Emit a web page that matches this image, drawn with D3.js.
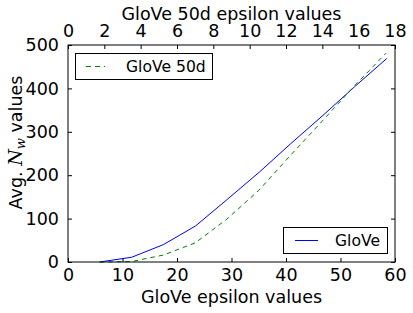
<!DOCTYPE html>
<html><head><meta charset="utf-8">
<script src="https://cdn.jsdelivr.net/npm/d3@7"></script>
<style>
html,body{margin:0;padding:0;background:#fff;}
svg{display:block;font-family:"DejaVu Sans",sans-serif;}
</style></head>
<body><svg id="c" width="413" height="313"></svg>
<script>
// Data
const gloveEps   = [5.8, 11.7, 17.5, 23.4, 29.2, 35.1, 40.9, 46.8, 52.6, 58.5];
const gloveNw    = [0, 11, 40, 83, 144, 207, 273, 338, 404, 469];
const glove50Eps = [1.75, 3.5, 5.25, 7, 8.75, 10.5, 12.25, 14, 15.75, 17.5];
const glove50Nw  = [0, 1, 16, 44, 99, 165, 246, 325, 405, 481];
const bottomTicks = [0, 10, 20, 30, 40, 50, 60];
const topTicks    = [0, 2, 4, 6, 8, 10, 12, 14, 16, 18];
const yTicks      = [0, 100, 200, 300, 400, 500];

const W = 413, H = 313;
const m = {l: 68, r: 18, t: 45, b: 51};
const fs = 17.5;
const lfs = 15.6;
const svg = d3.select("#c");

const x  = d3.scaleLinear().domain([0, 60]).range([m.l, W - m.r]);
const x2 = d3.scaleLinear().domain([0, 18]).range([m.l, W - m.r]);
const y  = d3.scaleLinear().domain([0, 500]).range([H - m.b, m.t]);

const plot = svg.append("g");

plot.append("path")
  .datum(gloveEps.map((e,i)=>[e, gloveNw[i]]))
  .attr("fill","none").attr("stroke","#0000ff").attr("stroke-width",1)
  .attr("d", d3.line().x(d=>x(d[0])).y(d=>y(d[1])));

plot.append("path")
  .datum(glove50Eps.map((e,i)=>[e, glove50Nw[i]]))
  .attr("fill","none").attr("stroke","#008000").attr("stroke-width",1)
  .attr("stroke-dasharray","4.5,4")
  .attr("d", d3.line().x(d=>x2(d[0])).y(d=>y(d[1])));

// axes with inward ticks
const tl = 4;
const axB = d3.axisBottom(x).tickValues(bottomTicks).tickSize(-tl).tickPadding(tl+3).tickFormat(d3.format("d"));
const axT = d3.axisTop(x2).tickValues(topTicks).tickSize(-tl).tickPadding(tl+4).tickFormat(d3.format("d"));
const axL = d3.axisLeft(y).tickValues(yTicks).tickSize(-tl).tickPadding(tl+5).tickFormat(d3.format("d"));
const axR = d3.axisRight(y).tickValues(yTicks).tickSize(-tl).tickFormat("");

function style(g){
  g.select(".domain").remove();
  g.selectAll(".tick line").attr("stroke","#000").attr("stroke-width",1);
  g.selectAll(".tick text").attr("fill","#000").style("font-size", fs+"px").style("font-family","DejaVu Sans");
}
svg.append("g").attr("transform",`translate(0,${H-m.b})`).call(axB).call(style);
svg.append("g").attr("transform",`translate(0,${m.t})`).call(axT).call(style);
svg.append("g").attr("transform",`translate(${m.l},0)`).call(axL).call(style);
svg.append("g").attr("transform",`translate(${W-m.r},0)`).call(axR).call(style);

// frame
svg.append("rect").attr("x", m.l).attr("y", m.t).attr("width", W-m.l-m.r).attr("height", H-m.t-m.b)
  .attr("fill","none").attr("stroke","#000").attr("stroke-width",1);

// axis labels
svg.append("text").attr("x", (m.l + W - m.r)/2).attr("y", 302.5).attr("text-anchor","middle")
  .style("font-size", fs+"px").text("GloVe epsilon values");
svg.append("text").attr("x", (m.l + W - m.r)/2).attr("y", 19.5).attr("text-anchor","middle")
  .style("font-size", fs+"px").text("GloVe 50d epsilon values");

const yl = svg.append("text").attr("transform","translate(22,142.5) rotate(-90)").attr("text-anchor","middle")
  .style("font-size", fs+"px");
yl.append("tspan").text("Avg. ");
yl.append("tspan").style("font-family","DejaVu Serif").style("font-style","italic").style("font-size","19px").text("N");
yl.append("tspan").style("font-family","DejaVu Serif").style("font-style","italic")
  .style("font-size", "13px").attr("dy", 3).text("w");
yl.append("tspan").attr("dy", -3).text(" values");

// legends
function legend(x0, y0, w, h, lx1, lx2, tx, label, color, dash){
  const g = svg.append("g");
  g.append("rect").attr("x", x0).attr("y", y0).attr("width", w).attr("height", h)
    .attr("fill","#fff").attr("stroke","#000").attr("stroke-width",1);
  g.append("line").attr("x1", lx1).attr("x2", lx2).attr("y1", y0 + h/2).attr("y2", y0 + h/2)
    .attr("stroke", color).attr("stroke-width",1).attr("stroke-dasharray", dash || null);
  g.append("text").attr("x", tx).attr("y", y0 + h/2 + 5.6).style("font-size", lfs+"px").text(label);
}
legend(75.5, 53.5, 137, 26, 86, 105, 126, "GloVe 50d", "#008000", "5,4");
legend(283.5, 227.5, 104, 26, 295, 318, 335, "GloVe", "#0000ff", null);
</script></body></html>
